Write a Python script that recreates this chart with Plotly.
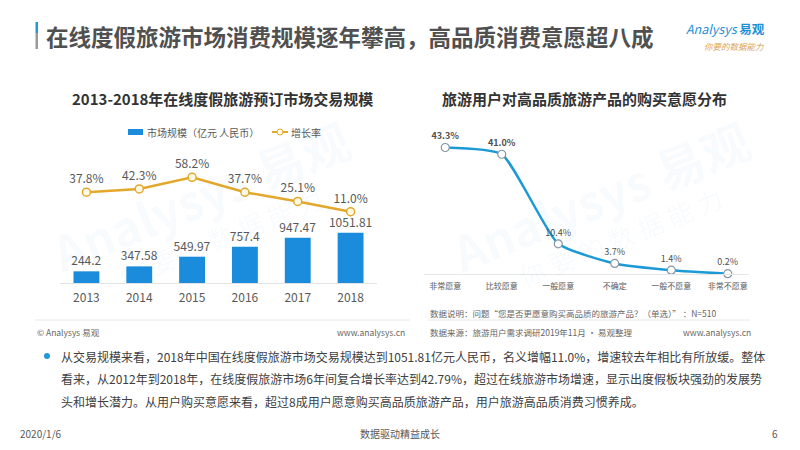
import plotly.graph_objects as go

# ---------------- data ----------------
years = ["2013", "2014", "2015", "2016", "2017", "2018"]
market_size = [244.2, 347.58, 549.97, 757.4, 947.47, 1051.81]
size_labels = ["244.2", "347.58", "549.97", "757.4", "947.47", "1051.81"]
growth_rate = [37.8, 42.3, 58.2, 37.7, 25.1, 11.0]

willing_cats = ["非常愿意", "比较愿意", "一般愿意", "不确定", "一般不愿意", "非常不愿意"]
willing_pct = [43.3, 41.0, 10.4, 3.7, 1.4, 0.2]

title_text = "在线度假旅游市场消费规模逐年攀高，高品质消费意愿超八成"
left_title = "2013-2018年在线度假旅游预订市场交易规模"
right_title = "旅游用户对高品质旅游产品的购买意愿分布"
bar_name = "市场规模（亿元 人民币）"
line_name = "增长率"
body_lines = [
    "从交易规模来看，2018年中国在线度假旅游市场交易规模达到1051.81亿元人民币，名义增幅11.0%，增速较去年相比有所放缓。整体",
    "看来，从2012年到2018年，在线度假旅游市场6年间复合增长率达到42.79%，超过在线旅游市场增速，显示出度假板块强劲的发展势",
    "头和增长潜力。从用户购买意愿来看，超过8成用户愿意购买高品质旅游产品，用户旅游高品质消费习惯养成。",
]

FONT = "Noto Sans CJK SC"
W, H = 800, 450
BLUE = "#1A8CDB"
GOLD = "#E3A82B"
LINEBLUE = "#1C9AD6"
GREY = "#595959"


def px(x):
    return x / W


def py(y):
    return 1 - y / H


fig = go.Figure()

fig.add_trace(go.Bar(
    x=years, y=market_size, name=bar_name, showlegend=False,
    marker=dict(color=BLUE, line=dict(width=0)),
    width=0.49,
    text=size_labels, textposition="outside", cliponaxis=False, constraintext="none",
    textfont=dict(size=12, color=GREY, family=FONT),
    xaxis="x", yaxis="y",
))

fig.add_trace(go.Scatter(
    x=years, y=growth_rate, name=line_name, showlegend=False,
    mode="lines+markers+text",
    line=dict(color=GOLD, width=2.5),
    marker=dict(size=8, color="#FFFBE6", line=dict(color=GOLD, width=1.5)),
    text=[f"{v:.1f}%" for v in growth_rate], textposition="top center",
    textfont=dict(size=12, color=GREY, family=FONT),
    cliponaxis=False,
    xaxis="x", yaxis="y2",
))

right_text = [(f"<b>{v:.1f}%</b>" if v > 20 else f"{v:.1f}%") for v in willing_pct]
fig.add_trace(go.Scatter(
    x=willing_cats, y=willing_pct, name="意愿",
    mode="lines+markers+text", showlegend=False,
    line=dict(color=LINEBLUE, width=2.5, shape="spline", smoothing=0.5),
    marker=dict(size=8, color="white", line=dict(color="#8696A6", width=1.2)),
    text=right_text, textposition="top center",
    textfont=dict(size=9, color="#505050", family=FONT),
    cliponaxis=False,
    xaxis="x2", yaxis="y3",
))

fig.update_layout(
    width=W, height=H,
    margin=dict(l=0, r=0, t=0, b=0),
    paper_bgcolor="white", plot_bgcolor="rgba(0,0,0,0)",
    font=dict(family=FONT, color=GREY),
    showlegend=False,
    xaxis=dict(domain=[px(60), px(377)], anchor="y", type="category",
               showgrid=False, zeroline=False, showline=True, linecolor="#E3E3E3", linewidth=1,
               ticks="outside", ticklen=4, tickcolor="rgba(0,0,0,0)",
               tickfont=dict(size=12, color=GREY, family=FONT)),
    yaxis=dict(domain=[py(283), py(120)], range=[0, 3408], visible=False),
    yaxis2=dict(domain=[py(283), py(120)], overlaying="y", range=[-86.8, 136.8], visible=False),
    xaxis2=dict(domain=[px(424), px(749)], anchor="y3", type="category",
                showgrid=False, zeroline=False, showline=True, linecolor="#E6E6E6", linewidth=1,
                ticks="outside", ticklen=4, tickcolor="rgba(0,0,0,0)",
                tickfont=dict(size=8, color=GREY, family=FONT)),
    yaxis3=dict(domain=[py(274.3), py(120)], anchor="x2", range=[0, 52.7], visible=False),
)

ann = []
# title
ann.append(dict(text=f"<b>{title_text}</b>", x=px(44), y=py(36), xref="paper", yref="paper",
                xanchor="left", yanchor="middle", showarrow=False,
                font=dict(size=22.5, color="#505050", family=FONT)))
# logo
ann.append(dict(text="<i>Analysys</i> <b>易观</b>", x=px(684), y=py(29), xref="paper", yref="paper",
                xanchor="left", yanchor="middle", showarrow=False,
                font=dict(size=12.5, color="#1E8FD6", family=FONT)))
ann.append(dict(text="<i><span style='color:#E8A33A'>你</span>要的数据能力</i>", x=px(702), y=py(45.5),
                xref="paper", yref="paper", xanchor="left", yanchor="middle", showarrow=False,
                font=dict(size=8.5, color="#D9A35A", family=FONT)))
# subtitles
ann.append(dict(text=f"<b>{left_title}</b>", x=px(222), y=py(99), xref="paper", yref="paper",
                xanchor="center", yanchor="middle", showarrow=False,
                font=dict(size=15, color="#333333", family=FONT)))
ann.append(dict(text=f"<b>{right_title}</b>", x=px(584), y=py(99), xref="paper", yref="paper",
                xanchor="center", yanchor="middle", showarrow=False,
                font=dict(size=15, color="#333333", family=FONT)))
# legend (left chart)
leg = dict(size=10, color=GREY, family=FONT)
ann.append(dict(text=bar_name, x=px(145), y=py(132), xref="paper", yref="paper",
                xanchor="left", yanchor="middle", showarrow=False, font=leg))
ann.append(dict(text=line_name, x=px(289), y=py(132), xref="paper", yref="paper",
                xanchor="left", yanchor="middle", showarrow=False, font=leg))
# watermarks
for cx, cy in [(200, 195), (600, 195)]:
    ann.append(dict(text="<b>Analysys 易观</b>", x=px(cx), y=py(cy), xref="paper", yref="paper",
                    xanchor="center", yanchor="middle", showarrow=False, textangle=-22,
                    font=dict(size=48, color="rgba(30,150,210,0.045)", family=FONT)))
    ann.append(dict(text="你 要 的 数 据 能 力", x=px(cx + 20), y=py(cy + 42), xref="paper", yref="paper",
                    xanchor="center", yanchor="middle", showarrow=False, textangle=-22,
                    font=dict(size=26, color="rgba(30,150,210,0.04)", family=FONT)))
# footers of charts
small = dict(size=8.5, color="#666666", family=FONT)
ann.append(dict(text="© Analysys 易观", x=px(35), y=py(332), xref="paper", yref="paper",
                xanchor="left", yanchor="middle", showarrow=False, font=small))
ann.append(dict(text="www.analysys.cn", x=px(407), y=py(332), xref="paper", yref="paper",
                xanchor="right", yanchor="middle", showarrow=False, font=small))
ann.append(dict(text="数据说明：问题“您是否更愿意购买高品质的旅游产品？（单选）” ：N=510", x=px(428), y=py(313),
                xref="paper", yref="paper", xanchor="left", yanchor="middle", showarrow=False, font=small))
ann.append(dict(text="数据来源：旅游用户需求调研2019年11月 · 易观整理", x=px(428), y=py(332),
                xref="paper", yref="paper", xanchor="left", yanchor="middle", showarrow=False, font=small))
ann.append(dict(text="www.analysys.cn", x=px(753), y=py(332), xref="paper", yref="paper",
                xanchor="right", yanchor="middle", showarrow=False, font=small))
# body text
for i, line in enumerate(body_lines):
    ann.append(dict(text=line, x=px(59), y=py(356 + 22.5 * i), xref="paper", yref="paper",
                    xanchor="left", yanchor="middle", showarrow=False,
                    font=dict(size=12, color="#404040", family=FONT)))
# page footer
foot = dict(size=10, color="#595959", family=FONT)
ann.append(dict(text="2020/1/6", x=px(18), y=py(433), xref="paper", yref="paper",
                xanchor="left", yanchor="middle", showarrow=False, font=foot))
ann.append(dict(text="数据驱动精益成长", x=px(400), y=py(433), xref="paper", yref="paper",
                xanchor="center", yanchor="middle", showarrow=False, font=foot))
ann.append(dict(text="6", x=px(780), y=py(433), xref="paper", yref="paper",
                xanchor="right", yanchor="middle", showarrow=False, font=foot))
fig.update_layout(annotations=ann)

shapes = [
    dict(type="rect", xref="paper", yref="paper", x0=px(35.5), x1=px(38), y0=py(33), y1=py(22),
         fillcolor="#1E9BD7", line=dict(width=0)),
    dict(type="rect", xref="paper", yref="paper", x0=px(35.5), x1=px(38), y0=py(49), y1=py(33),
         fillcolor="#9A9A9A", line=dict(width=0)),
    dict(type="line", xref="paper", yref="paper", x0=px(35), x1=px(410), y0=py(320), y1=py(320),
         line=dict(color="#E8E8E8", width=1)),
    dict(type="line", xref="paper", yref="paper", x0=px(428), x1=px(750), y0=py(320), y1=py(320),
         line=dict(color="#E8E8E8", width=1)),
    dict(type="circle", xref="paper", yref="paper", x0=px(44), x1=px(50), y0=py(359), y1=py(353),
         fillcolor="#1E9BD7", line=dict(width=0)),
    # legend icons
    dict(type="rect", xref="paper", yref="paper", x0=px(128), x1=px(143), y0=py(135), y1=py(129),
         fillcolor=BLUE, line=dict(width=0)),
    dict(type="line", xref="paper", yref="paper", x0=px(272), x1=px(288), y0=py(132), y1=py(132),
         line=dict(color=GOLD, width=2)),
    dict(type="circle", xref="paper", yref="paper", x0=px(277), x1=px(283), y0=py(135), y1=py(129),
         fillcolor="#FFFBE6", line=dict(color=GOLD, width=1)),
]
fig.update_layout(shapes=shapes)

fig.write_html("out.html", config={"displayModeBar": False},
               post_script="document.body.style.margin='0px';")
